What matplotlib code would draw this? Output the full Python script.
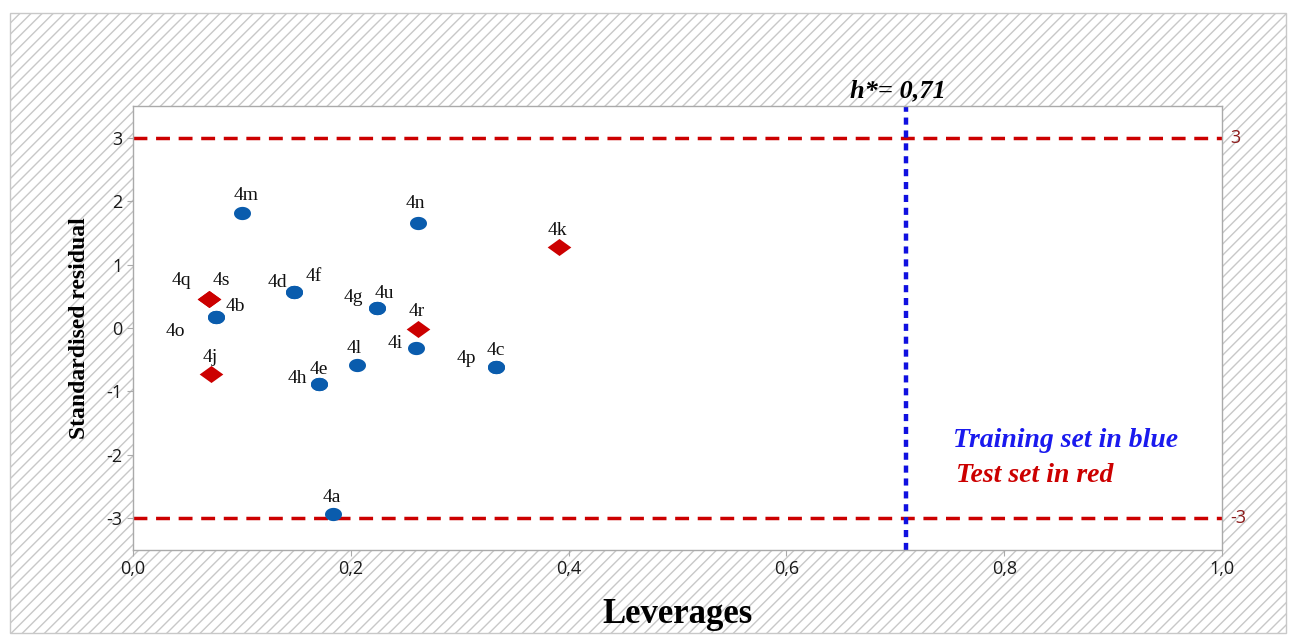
import matplotlib
matplotlib.use('Agg')
import numpy as np
import matplotlib.pyplot as plt
from matplotlib.patches import Rectangle
from matplotlib.ticker import FuncFormatter

# training set (blue circles)
train_names = ['4m', '4n', '4d', '4f', '4b', '4o', '4g', '4u', '4i', '4l', '4h', '4e', '4p', '4c', '4a']
train_lev   = [0.100, 0.262, 0.148, 0.148, 0.076, 0.076, 0.224, 0.224, 0.260, 0.206, 0.171, 0.171, 0.333, 0.333, 0.184]
train_res   = [1.82, 1.66, 0.57, 0.57, 0.17, 0.17, 0.32, 0.32, -0.31, -0.59, -0.89, -0.89, -0.61, -0.61, -2.94]

# test set (red diamonds)
test_names = ['4q', '4s', '4k', '4r', '4j']
test_lev   = [0.070, 0.070, 0.391, 0.262, 0.072]
test_res   = [0.45, 0.45, 1.28, -0.01, -0.72]

h_star = 0.71
res_limit = 3

# label offsets in points (dx, dy)
label_offset = {
    '4m': (3, 12), '4n': (-2, 14), '4k': (-1, 12), '4q': (-20, 14), '4s': (9, 14),
    '4d': (-12, 7), '4f': (14, 11), '4b': (14, 8), '4o': (-29, -10), '4g': (-17, 7),
    '4u': (5, 10), '4r': (-1, 12), '4i': (-15, 3), '4l': (-2, 12), '4p': (-21, 6),
    '4c': (0, 12), '4j': (-1, 12), '4h': (-16, 4), '4e': (0, 11), '4a': (-1, 12),
}

# slightly squashed marker shapes (the original picture is stretched sideways)
t = np.linspace(0, 2 * np.pi, 40)
ellipse = np.column_stack([np.cos(t), 0.78 * np.sin(t)])
diamond = [(-1, 0), (0, 0.72), (1, 0), (0, -0.72), (-1, 0)]

fig = plt.figure(figsize=(12.89, 6.37), dpi=100)
plt.rcParams['hatch.color'] = '#c8c8c8'
plt.rcParams['hatch.linewidth'] = 1.0

bg = Rectangle((10 / 1289, 4 / 637), 1276 / 1289, 620 / 637, transform=fig.transFigure,
               facecolor='white', edgecolor='#c8c8c8', hatch='///', linewidth=1.0, zorder=-5)
fig.patches.append(bg)

ax = fig.add_axes([133 / 1289, 1 - 550 / 637, 1089 / 1289, 444 / 637])
ax.set_zorder(2)
ax.set_facecolor('white')

ax.axhline(res_limit, color='#cc0000', linestyle=(0, (4, 2.5)), linewidth=2.5, zorder=1)
ax.axhline(-res_limit, color='#cc0000', linestyle=(0, (4, 2.5)), linewidth=2.5, zorder=1)
ax.axvline(h_star, color='#1010e0', linestyle=(0, (1.6, 1.3)), linewidth=3.2, zorder=1)

ax.scatter(train_lev, train_res, s=150, marker=ellipse, color='#0a5cad', zorder=3, linewidths=0)
ax.scatter(test_lev, test_res, s=290, marker=diamond, color='#cc0000', zorder=3, linewidths=0)

for names, xs, ys in [(train_names, train_lev, train_res), (test_names, test_lev, test_res)]:
    for n, x, y in zip(names, xs, ys):
        ax.annotate(n, (x, y), xytext=label_offset[n], textcoords='offset points',
                    ha='center', va='center', fontsize=14, family='Liberation Serif', color='#111111')

ax.set_xlim(0, 1.0)
ax.set_ylim(-3.5, 3.5)
ax.set_xticks([0, 0.2, 0.4, 0.6, 0.8, 1.0])
ax.set_yticks([-3, -2, -1, 0, 1, 2, 3])
ax.xaxis.set_major_formatter(FuncFormatter(lambda v, p: ('%.1f' % v).replace('.', ',')))
ax.yaxis.set_major_formatter(FuncFormatter(lambda v, p: '%d' % v))
ax.tick_params(labelsize=13, colors='#1a1a1a', length=4, color='#aaaaaa')
for lab in ax.get_xticklabels() + ax.get_yticklabels():
    lab.set_family('Open Sans')
for sp in ax.spines.values():
    sp.set_color('#aaaaaa')
    sp.set_linewidth(1.0)

ax.set_xlabel('Leverages', fontsize=25, fontweight='bold', family='Liberation Serif', labelpad=14)
ax.set_ylabel('Standardised residual', fontsize=17, fontweight='bold', family='Liberation Serif', labelpad=12)

ax.text(h_star - 0.008, 3.56, 'h*= 0,71', ha='center', va='bottom', fontsize=19,
        fontweight='bold', fontstyle='italic', family='Liberation Serif')
ax.text(1.008, res_limit, '3', ha='left', va='center', fontsize=13, color='#8b1a1a', family='Open Sans')
ax.text(1.008, -res_limit, '-3', ha='left', va='center', fontsize=13, color='#8b1a1a', family='Open Sans')

ax.text(0.753, -1.77, 'Training set in blue', ha='left', va='center', fontsize=20, color='#1a1aee',
        fontweight='bold', fontstyle='italic', family='Liberation Serif')
ax.text(0.756, -2.33, 'Test set in red', ha='left', va='center', fontsize=20, color='#cc0000',
        fontweight='bold', fontstyle='italic', family='Liberation Serif')

fig.savefig('out.png', dpi=100)
